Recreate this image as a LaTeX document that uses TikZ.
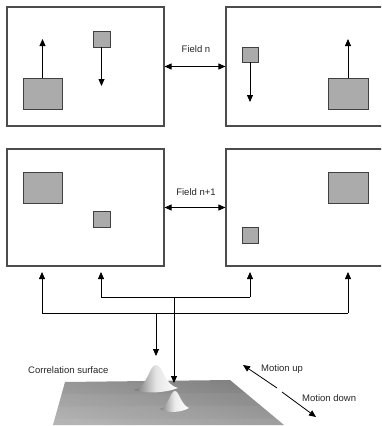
\documentclass[tikz,border=0pt]{standalone}
\usepackage{fontspec}
\setmainfont{Liberation Sans}
\usetikzlibrary{arrows.meta,calc}
\tikzset{
  frame/.style={draw=black!70, line width=1.1pt, fill=white, inner sep=0pt},
  blob/.style={draw=black!75, line width=0.9pt, fill=black!33, inner sep=0pt},
  arr/.style={draw=black, line width=0.8pt, -{Triangle[length=7pt,width=6pt]}},
  dbl/.style={draw=black, line width=0.8pt, {Triangle[length=7pt,width=6pt]}-{Triangle[length=7pt,width=6pt]}},
  wire/.style={draw=black, line width=0.8pt},
  lbl/.style={font=\fontsize{9.5}{11}\selectfont, text=black!85, inner sep=0pt},
}
\begin{document}
\begin{tikzpicture}[x=1pt, y=-1pt]
\useasboundingbox (0,0) rectangle (381,426);
\clip (0,0) rectangle (381,426);

% picture frames: field n (top), field n+1 (bottom)
\node[frame, minimum width=157pt, minimum height=119pt] (f1) at (85.5,66.5) {};
\node[frame, minimum width=164pt, minimum height=119pt] (f2) at (308,66.5) {};
\node[frame, minimum width=157pt, minimum height=117pt] (f3) at (85.5,207.5) {};
\node[frame, minimum width=164pt, minimum height=117pt] (f4) at (308,207.5) {};

% objects in field n
\node[blob, minimum width=39pt, minimum height=31pt] (a1) at (42.5,93.5) {};
\node[blob, minimum width=17pt, minimum height=16pt] (b1) at (101.5,39) {};
\node[blob, minimum width=16pt, minimum height=15pt] (b2) at (250,54.5) {};
\node[blob, minimum width=40pt, minimum height=31pt] (a2) at (348,93.5) {};
\coordinate (a1t) at (42.5,39);
\coordinate (b1t) at (101.5,86);
\coordinate (b2t) at (250,102);
\coordinate (a2t) at (348,39);
\draw[arr] (a1) -- (a1t);
\draw[arr] (b1) -- (b1t);
\draw[arr] (b2) -- (b2t);
\draw[arr] (a2) -- (a2t);

% objects in field n+1
\node[blob, minimum width=39pt, minimum height=31pt] (a3) at (42.5,187.5) {};
\node[blob, minimum width=17pt, minimum height=16pt] (b3) at (101.5,219) {};
\node[blob, minimum width=40pt, minimum height=31pt] (a4) at (348,187.5) {};
\node[blob, minimum width=16pt, minimum height=16pt] (b4) at (250,235) {};

% field links
\draw[dbl] (f1) -- (f2);
\node[lbl] (ln) at (196,49) {Field n};
\draw[dbl] (f3) -- (f4);
\node[lbl] (ln1) at (196,192) {Field n+1};

% correlation wiring
\coordinate (o1) at (42,313);
\coordinate (o2) at (348,313);
\coordinate (i1) at (101,297);
\coordinate (i2) at (250,297);
\coordinate (p1) at (156,313);
\coordinate (p2) at (174,297);
\coordinate (o1t) at (42,272);
\coordinate (o2t) at (348,272);
\coordinate (i1t) at (101,272);
\coordinate (i2t) at (250,272);
\coordinate (p1t) at (156,356);
\coordinate (p2t) at (174,383);
\draw[wire] (o1) -- (o2);
\draw[wire] (i1) -- (i2);
\draw[arr] (o1) -- (o1t);
\draw[arr] (o2) -- (o2t);
\draw[arr] (i1) -- (i1t);
\draw[arr] (i2) -- (i2t);
\draw[arr] (p1) -- (p1t);

% correlation surface
\shade[top color=black!50, bottom color=black!34, shading angle=-15]
  (65,382) -- (230,380) -- (284,425) -- (53,425) -- cycle;
\foreach \k in {2,4,6}{
  \fill[white, opacity=0.05]
    ($(65,382)!{\k/7}!(53,425)$) -- ($(230,380)!{\k/7}!(284,425)$) --
    (284,425) -- (53,425) -- cycle;
}
% peaks
\shade[left color=black!55, right color=white, middle color=black!10]
  (134,390) .. controls (148,387) and (149,365) .. (156,365)
  .. controls (163,365) and (164,385) .. (178,388)
  .. controls (165,393) and (145,394) .. cycle;
\shade[left color=black!50, right color=white, middle color=black!8]
  (160,409) .. controls (169,406) and (170,391) .. (175,391)
  .. controls (179,391) and (181,405) .. (189,408)
  .. controls (180,413) and (168,413) .. cycle;
\draw[arr] (p2) -- (p2t);

\node[lbl, anchor=west] (cs) at (28,370) {Correlation surface};

% motion directions
\coordinate (mu) at (277,388);
\coordinate (mut) at (243,365);
\coordinate (md) at (282,392);
\coordinate (mdt) at (316,417);
\draw[arr] (mu) -- (mut);
\draw[arr] (md) -- (mdt);
\node[lbl, anchor=west] (up) at (261,369) {Motion up};
\node[lbl, anchor=west] (dn) at (302,398) {Motion down};
\end{tikzpicture}
\end{document}
